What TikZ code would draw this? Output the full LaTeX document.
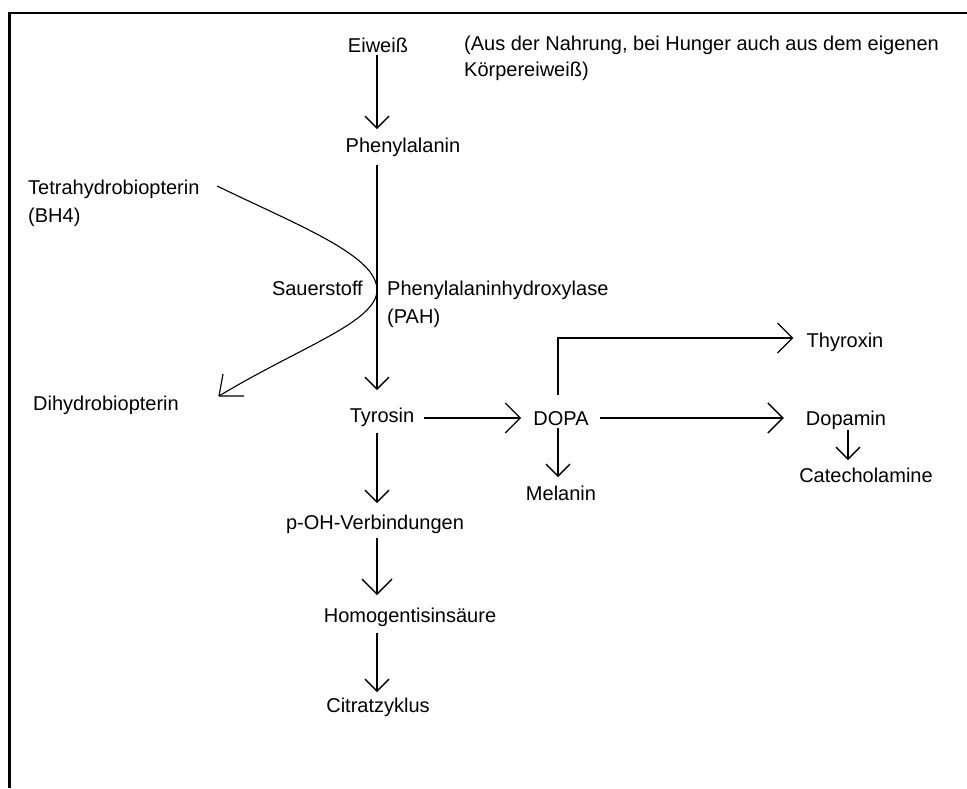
\documentclass[tikz,border=0pt]{standalone}
\usepackage{fontspec}
\setmainfont{Liberation Sans}
\usetikzlibrary{arrows.meta,calc}
\tikzset{
  lbl/.style={inner sep=0pt, text height=14pt, text depth=0pt, font=\fontsize{20}{24}\selectfont},
  mlbl/.style={inner sep=0pt, align=left, anchor=north west},
  arr/.style={line width=1.3pt, -{Straight Barb[length=12pt,width=24pt,line width=1.3pt]}},
  bigarr/.style={line width=1.3pt, -{Straight Barb[length=15pt,width=30pt,line width=1.3pt]}},
}
\begin{document}
\begin{tikzpicture}[x=1pt,y=-1pt]
\useasboundingbox (0,0) rectangle (967,788);
\fill[white] (0,0) rectangle (967,788);
\draw[line width=2.3pt, line join=miter] (9.5,788) -- (9.5,13.3) -- (967,13.3);

\coordinate (ax) at (377,0);
\coordinate (dx) at (558,0);
\coordinate (mx) at (848,0);

% labels
\node[lbl] (eiw) at (378,45) {Eiweiß};
\node[mlbl, font=\fontsize{20}{26}\selectfont] (note) at (464,36) {(Aus der Nahrung, bei Hunger auch aus dem eigenen\\Körpereiweiß)};
\node[lbl] (phe) at (403,145) {Phenylalanin};
\node[mlbl, font=\fontsize{20}{28}\selectfont] (thb) at (28,179.4) {Tetrahydrobiopterin\\(BH4)};
\node[lbl, anchor=east] (sau) at (363,288) {Sauerstoff};
\node[mlbl, font=\fontsize{20}{28}\selectfont] (pah) at (387,280.4) {Phenylalaninhydroxylase\\(PAH)};
\node[lbl, anchor=west] (dih) at (33,403) {Dihydrobiopterin};
\node[lbl] (tyr) at (382,415) {Tyrosin};
\node[lbl] (dopa) at (561,418) {DOPA};
\node[lbl] (dopamin) at (846,418) {Dopamin};
\node[lbl] (thy) at (845,340) {Thyroxin};
\node[lbl] (mel) at (561,493) {Melanin};
\node[lbl] (cat) at (866,475) {Catecholamine};
\node[lbl] (poh) at (375,522) {p-OH-Verbindungen};
\node[lbl] (homo) at (410,615) {Homogentisinsäure};
\node[lbl] (cit) at (378,705) {Citratzyklus};

% main column
\draw[arr] ($(eiw.center -| ax)+(0,10)$) -- ($(phe.center -| ax)+(0,-16)$);
\draw[arr] ($(phe.center -| ax)+(0,20)$) -- ($(tyr.center -| ax)+(0,-25)$);
\draw[arr] ($(tyr.center -| ax)+(0,18)$) -- ($(poh.center -| ax)+(0,-19)$);
\draw[bigarr] ($(poh.center -| ax)+(0,16)$) -- ($(homo.center -| ax)+(0,-20)$);
\draw[arr] ($(homo.center -| ax)+(0,18)$) -- ($(cit.center -| ax)+(0,-13)$);

% horizontal branch
\draw[bigarr] ($(tyr.east |- dopa.center)+(10,0)$) -- ($(dopa.west)+(-12,0)$);
\draw[bigarr] ($(dopa.east)+(11,0)$) -- ($(dopamin.west)+(-22,0)$);
\draw[bigarr] ($(dopa.center -| dx)+(0,-23)$) -- ($(dx |- thy.center)+(0,-2)$) -- ($(thy.west)+(-13,-2)$);
\draw[arr] ($(dopa.center -| dx)+(0,10)$) -- ($(mel.center -| dx)+(0,-16)$);
\draw[arr] ($(dopamin.center -| mx)+(0,12)$) -- ($(cat.center -| mx)+(0,-15)$);

% cofactor curve
\coordinate (cstart) at (217,186);
\coordinate (cmid) at (377,290);
\coordinate (cend) at (219,396);
\draw[line width=1.1pt] (cstart) .. controls (302,227) and (377,256) .. (cmid)
      .. controls (377,322) and (300,347) .. (cend);
\draw[line width=1.2pt] (cend) -- ++(4,-22) (cend) -- ++(25,0);
\end{tikzpicture}
\end{document}
